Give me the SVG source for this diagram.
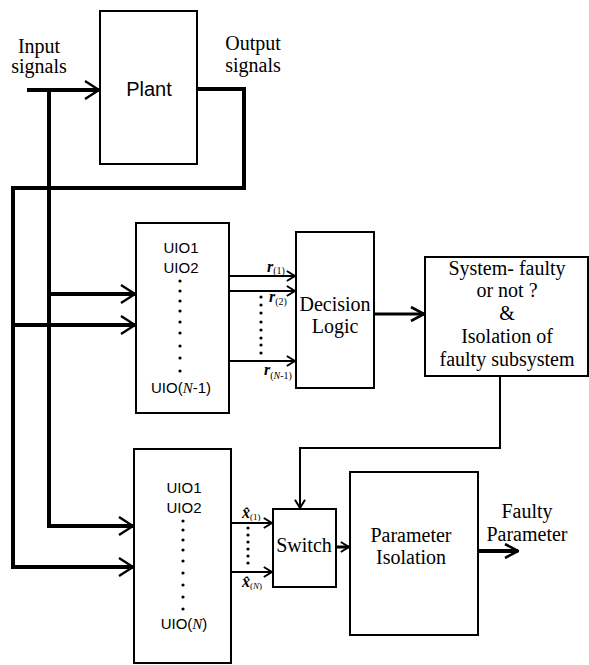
<svg xmlns="http://www.w3.org/2000/svg" width="589" height="665" viewBox="0 0 589 665">
<style>
.box{fill:#fff;stroke:#000;stroke-width:2}
.thick{fill:none;stroke:#000;stroke-width:4}
.mid{fill:none;stroke:#000;stroke-width:3}
.thin{fill:none;stroke:#000;stroke-width:2}
.dot{fill:#000}
</style>
<defs>
<marker id="big" markerUnits="userSpaceOnUse" viewBox="0 0 16 20" markerWidth="16" markerHeight="20" refX="15" refY="10" orient="auto">
<path d="M1,1 L15,10 L1,19" fill="none" stroke="#000" stroke-width="2.4"/>
</marker>
<marker id="med" markerUnits="userSpaceOnUse" viewBox="0 0 15 16" markerWidth="15" markerHeight="16" refX="14" refY="8" orient="auto">
<path d="M1,1 L14,8 L1,15" fill="none" stroke="#000" stroke-width="2.6"/>
</marker>
<marker id="small" markerUnits="userSpaceOnUse" viewBox="0 0 10 12" markerWidth="10" markerHeight="12" refX="9" refY="6" orient="auto">
<path d="M0.8,1 L9,6 L0.8,11" fill="none" stroke="#000" stroke-width="2"/>
</marker>
</defs>
<rect width="589" height="665" fill="#fff"/>

<g id="connectors">
<path class="thick" d="M27,90 H99" marker-end="url(#big)"/>
<path class="thick" d="M49,90 V526 H133" marker-end="url(#big)"/>
<path class="thick" d="M49,294 H135" marker-end="url(#big)"/>
<path class="thick" d="M197,89 H244 V188 H13 V567 H133" marker-end="url(#big)"/>
<path class="thick" d="M13,325 H135" marker-end="url(#big)"/>
<path class="thin" d="M229,276 H295" marker-end="url(#small)"/>
<path class="thin" d="M229,291 H295" marker-end="url(#small)"/>
<path class="thin" d="M229,361 H295" marker-end="url(#small)"/>
<path class="mid" d="M374,314 H424" marker-end="url(#med)"/>
<path class="thin" d="M500,376 V448 H300 V508" marker-end="url(#small)"/>
<path class="thin" d="M231,523 H272" marker-end="url(#small)"/>
<path class="thin" d="M231,572 H272" marker-end="url(#small)"/>
<path class="mid" d="M336,547 H349" marker-end="url(#small)"/>
<path class="thick" d="M478,551 H518" marker-end="url(#med)"/>
</g>

<g font-family="'Liberation Serif', 'Times New Roman', serif" font-size="20" fill="#000" text-anchor="middle">
<g id="input-label">
<text x="39" y="53">Input</text>
<text x="39" y="73">signals</text>
</g>
<g id="output-label">
<text x="253" y="50">Output</text>
<text x="253" y="72">signals</text>
</g>
</g>

<g id="plant">
<rect class="box" x="100" y="11" width="97" height="153"/>
<text x="149" y="96" font-family="'Liberation Sans', Arial, sans-serif" font-size="20" text-anchor="middle">Plant</text>
</g>

<g id="uio-bank1">
<rect class="box" x="136" y="223" width="93" height="190"/>
<g font-family="'Liberation Sans', Arial, sans-serif" font-size="15" text-anchor="middle">
<text x="181" y="253">UIO1</text>
<text x="181" y="273">UIO2</text>
<text x="181" y="393">UIO(<tspan font-family="'Liberation Serif', serif" font-style="italic">N</tspan>-1)</text>
</g>
<g class="dot">
<circle cx="180" cy="281" r="1.6"/><circle cx="180" cy="291" r="1.6"/><circle cx="180" cy="301" r="1.6"/>
<circle cx="180" cy="311" r="1.6"/><circle cx="180" cy="322" r="1.6"/><circle cx="180" cy="333" r="1.6"/>
<circle cx="180" cy="346" r="1.6"/><circle cx="180" cy="358" r="1.6"/><circle cx="180" cy="371" r="1.6"/>
</g>
</g>

<g id="residuals" font-family="'Liberation Serif', 'Times New Roman', serif">
<text x="267" y="272" font-size="16" font-weight="bold" font-style="italic">r<tspan font-size="10" font-weight="normal" font-style="normal" dy="2">(1)</tspan></text>
<text x="269" y="302" font-size="16" font-weight="bold" font-style="italic">r<tspan font-size="10" font-weight="normal" font-style="normal" dy="3">(2)</tspan></text>
<text x="264" y="375" font-size="16" font-weight="bold" font-style="italic">r<tspan font-size="10" font-weight="normal" font-style="normal" dy="4">(<tspan font-style="italic">N</tspan>-1)</tspan></text>
<g class="dot">
<circle cx="261" cy="297" r="1.6"/><circle cx="261" cy="305" r="1.6"/><circle cx="261" cy="313" r="1.6"/>
<circle cx="261" cy="322" r="1.6"/><circle cx="261" cy="330" r="1.6"/><circle cx="261" cy="338" r="1.6"/>
<circle cx="261" cy="345" r="1.6"/><circle cx="261" cy="353" r="1.6"/>
</g>
</g>

<g id="decision-logic">
<rect class="box" x="296" y="232" width="78" height="156"/>
<g font-family="'Liberation Serif', 'Times New Roman', serif" font-size="20" text-anchor="middle">
<text x="335" y="311">Decision</text>
<text x="335" y="333">Logic</text>
</g>
</g>

<g id="system-faulty">
<rect class="box" x="425" y="257" width="163" height="119"/>
<g font-family="'Liberation Serif', 'Times New Roman', serif" font-size="20" text-anchor="middle">
<text x="507" y="275">System- faulty</text>
<text x="507" y="297">or not ?</text>
<text x="507" y="320">&amp;</text>
<text x="507" y="343">Isolation of</text>
<text x="507" y="366">faulty subsystem</text>
</g>
</g>

<g id="uio-bank2">
<rect class="box" x="134" y="449" width="97" height="214"/>
<g font-family="'Liberation Sans', Arial, sans-serif" font-size="15" text-anchor="middle">
<text x="184" y="493">UIO1</text>
<text x="184" y="513">UIO2</text>
<text x="184" y="629">UIO(<tspan font-family="'Liberation Serif', serif" font-style="italic">N</tspan>)</text>
</g>
<g class="dot">
<circle cx="183" cy="521" r="1.6"/><circle cx="183" cy="530" r="1.6"/><circle cx="183" cy="540" r="1.6"/>
<circle cx="183" cy="550" r="1.6"/><circle cx="183" cy="561" r="1.6"/><circle cx="183" cy="573" r="1.6"/>
<circle cx="183" cy="585" r="1.6"/><circle cx="183" cy="597" r="1.6"/><circle cx="183" cy="609" r="1.6"/>
</g>
</g>

<g id="estimates" font-family="'Liberation Serif', 'Times New Roman', serif">
<text x="242" y="518" font-size="16" font-weight="bold" font-style="italic">x̂<tspan font-size="9" font-weight="normal" font-style="normal" dy="2">(1)</tspan></text>
<text x="242" y="587" font-size="16" font-weight="bold" font-style="italic">x̂<tspan font-size="9" font-weight="normal" font-style="normal" dy="2">(<tspan font-style="italic">N</tspan>)</tspan></text>
<g class="dot">
<circle cx="248" cy="528" r="1.6"/><circle cx="248" cy="535" r="1.6"/><circle cx="248" cy="542" r="1.6"/>
<circle cx="248" cy="549" r="1.6"/><circle cx="248" cy="556" r="1.6"/><circle cx="248" cy="563" r="1.6"/>
</g>
</g>

<g id="switch">
<rect class="box" x="273" y="509" width="63" height="78"/>
<text x="304" y="552" font-family="'Liberation Serif', 'Times New Roman', serif" font-size="20" text-anchor="middle">Switch</text>
</g>

<g id="parameter-isolation">
<rect class="box" x="350" y="472" width="128" height="163"/>
<g font-family="'Liberation Serif', 'Times New Roman', serif" font-size="20" text-anchor="middle">
<text x="411" y="542">Parameter</text>
<text x="411" y="564">Isolation</text>
</g>
</g>

<g id="faulty-parameter-label" font-family="'Liberation Serif', 'Times New Roman', serif" font-size="20" text-anchor="middle">
<text x="527" y="518">Faulty</text>
<text x="527" y="541">Parameter</text>
</g>
</svg>
